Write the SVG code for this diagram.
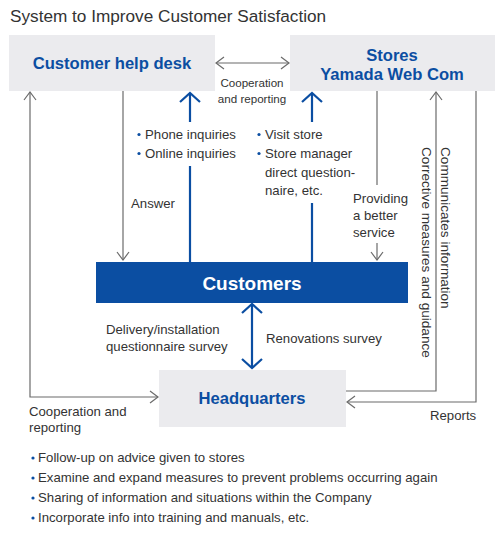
<svg xmlns="http://www.w3.org/2000/svg" width="500" height="533" viewBox="0 0 500 533">
<style>
text{font-family:"Liberation Sans",Arial,sans-serif;fill:#333}
.title{font-size:17.2px}
.lbl{font-size:13.2px}
.vt{font-size:13.6px}
.sm{font-size:11.6px}
.node{font-size:16.6px;font-weight:bold;fill:#0b4ea2}
.cust{font-size:19px;font-weight:bold;fill:#fff}
.box{fill:#ebebee}
.g{stroke:#6b6b6b;stroke-width:1.2;fill:none}
.b{stroke:#0b4ea2;stroke-width:2.2;fill:none}
.dot{fill:#0b4ea2}
</style>
<defs>
<marker id="ag" viewBox="0 0 10 14" refX="9" refY="7" markerWidth="10" markerHeight="14" markerUnits="userSpaceOnUse" orient="auto-start-reverse">
<path d="M1,1 L9,7 L1,13" fill="none" stroke="#6b6b6b" stroke-width="1.2"/>
</marker>
<marker id="ab" viewBox="0 0 12 22" refX="10" refY="11" markerWidth="12" markerHeight="22" markerUnits="userSpaceOnUse" orient="auto-start-reverse">
<path d="M1,1 L10,11 L1,21" fill="none" stroke="#0b4ea2" stroke-width="2.2"/>
</marker>
</defs>
<rect width="500" height="533" fill="#fff"/>
<text class="title" x="10" y="22">System to Improve Customer Satisfaction</text>

<g id="helpdesk">
<rect class="box" x="9" y="35" width="206" height="56"/>
<text class="node" x="112" y="69" text-anchor="middle">Customer help desk</text>
</g>
<g id="stores">
<rect class="box" x="290" y="35" width="205" height="56"/>
<text class="node" x="392" y="61" text-anchor="middle">Stores</text>
<text class="node" x="392" y="80" text-anchor="middle">Yamada Web Com</text>
</g>
<g id="customers">
<rect x="96" y="262" width="312" height="41" fill="#0b4ea2"/>
<text class="cust" x="252" y="290" text-anchor="middle">Customers</text>
</g>
<g id="headquarters">
<rect class="box" x="159" y="370" width="187" height="57"/>
<text class="node" x="252" y="404" text-anchor="middle">Headquarters</text>
</g>

<g id="connectors">
<line class="g" x1="216" y1="63" x2="289" y2="63" marker-start="url(#ag)" marker-end="url(#ag)"/>
<polyline class="g" points="158,397 30,397 30,92" marker-start="url(#ag)" marker-end="url(#ag)"/>
<line class="g" x1="123" y1="91" x2="123" y2="260" marker-end="url(#ag)"/>
<polyline class="b" points="190,262 190,166"/>
<line class="b" x1="190" y1="122" x2="190" y2="93" marker-end="url(#ab)"/>
<polyline class="b" points="312,262 312,203"/>
<line class="b" x1="312" y1="122" x2="312" y2="93" marker-end="url(#ab)"/>
<line class="g" x1="377" y1="91" x2="377" y2="185"/>
<line class="g" x1="377" y1="243" x2="377" y2="260" marker-end="url(#ag)"/>
<polyline class="g" points="346,391 436,391 436,92" marker-end="url(#ag)"/>
<polyline class="g" points="476,91 476,402 347,402" marker-end="url(#ag)"/>
<line class="b" x1="252" y1="304" x2="252" y2="368" marker-start="url(#ab)" marker-end="url(#ab)"/>
</g>

<g id="labels">
<text class="sm" x="252" y="87" text-anchor="middle">Cooperation</text>
<text class="sm" x="252" y="103" text-anchor="middle">and reporting</text>
<circle class="dot" cx="139" cy="134.5" r="1.6"/>
<text class="lbl" x="145" y="139">Phone inquiries</text>
<circle class="dot" cx="139" cy="153.5" r="1.6"/>
<text class="lbl" x="145" y="158">Online inquiries</text>
<circle class="dot" cx="259" cy="134.5" r="1.6"/>
<text class="lbl" x="265" y="139">Visit store</text>
<circle class="dot" cx="259" cy="153.5" r="1.6"/>
<text class="lbl" x="265" y="158">Store manager</text>
<text class="lbl" x="265" y="177">direct question-</text>
<text class="lbl" x="265" y="195">naire, etc.</text>
<text class="lbl" x="131" y="208">Answer</text>
<text class="lbl" x="353" y="203">Providing</text>
<text class="lbl" x="353" y="220">a better</text>
<text class="lbl" x="353" y="237">service</text>
<text class="vt" transform="translate(441,147) rotate(90)">Communicates information</text>
<text class="vt" transform="translate(422,147) rotate(90)">Corrective measures and guidance</text>
<text class="lbl" x="106" y="334">Delivery/installation</text>
<text class="lbl" x="106" y="351">questionnaire survey</text>
<text class="lbl" x="266" y="343">Renovations survey</text>
<text class="lbl" x="29" y="416">Cooperation and</text>
<text class="lbl" x="29" y="432">reporting</text>
<text class="lbl" x="430" y="420">Reports</text>
<circle class="dot" cx="33" cy="458" r="1.6"/>
<text class="lbl" x="38" y="462">Follow-up on advice given to stores</text>
<circle class="dot" cx="33" cy="478" r="1.6"/>
<text class="lbl" x="38" y="482">Examine and expand measures to prevent problems occurring again</text>
<circle class="dot" cx="33" cy="498" r="1.6"/>
<text class="lbl" x="38" y="502">Sharing of information and situations within the Company</text>
<circle class="dot" cx="33" cy="518" r="1.6"/>
<text class="lbl" x="38" y="522">Incorporate info into training and manuals, etc.</text>
</g>
</svg>
